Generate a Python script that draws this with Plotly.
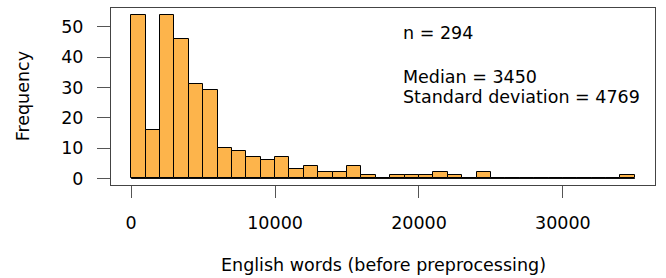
import plotly.graph_objects as go

# Histogram data: bins of width 1000 starting at 0
bin_starts = list(range(0, 35000, 1000))
counts = [54, 16, 54, 46, 31, 29, 10, 9, 7, 6, 7, 3, 4, 2, 2, 4, 1, 0, 1, 1, 1, 2, 1, 0, 2,
          0, 0, 0, 0, 0, 0, 0, 0, 0, 1]
bin_width = 1000
x_ticks = [0, 10000, 20000, 30000]
y_ticks = [0, 10, 20, 30, 40, 50]
stats_lines = ["n = 294", "Median = 3450", "Standard deviation = 4769"]
x_title = "English words (before preprocessing)"
y_title = "Frequency"

FONT = "DejaVu Sans"
FS = 17.5

centers = [s + bin_width / 2 for s in bin_starts]

fig = go.Figure()
fig.add_trace(go.Bar(
    x=centers, y=counts, width=bin_width,
    marker=dict(color="#FDB44B", line=dict(color="black", width=1)),
    showlegend=False, hoverinfo="skip",
))
# baseline for empty bins (R draws zero-height rectangles)
fig.add_trace(go.Scatter(
    x=[bin_starts[0], bin_starts[-1] + bin_width], y=[0, 0], mode="lines",
    line=dict(color="black", width=1), showlegend=False, hoverinfo="skip",
))

fig.update_layout(
    width=666, height=278,
    margin=dict(l=111, r=11, t=8, b=92.5),
    paper_bgcolor="white", plot_bgcolor="white",
    bargap=0,
    font=dict(family=FONT, size=FS, color="black"),
)
fig.update_xaxes(
    range=[-1400, 36400], tickvals=x_ticks, ticktext=[str(v) for v in x_ticks],
    ticks="outside", ticklen=12, tickcolor="#555", tickwidth=1,
    showline=True, linecolor="#444", linewidth=1, mirror=True,
    showgrid=False, zeroline=False, ticklabelstandoff=10,
)
fig.update_yaxes(
    range=[-2.16, 56.16], tickvals=y_ticks, ticktext=[str(v) for v in y_ticks],
    ticks="outside", ticklen=13, tickcolor="#555", tickwidth=1,
    showline=True, linecolor="#444", linewidth=1, mirror=True,
    showgrid=False, zeroline=False, ticklabelstandoff=10,
)

# axis titles
fig.add_annotation(text=x_title, xref="paper", yref="paper", x=0.5, y=-0.4535,
                   xanchor="center", yanchor="middle", showarrow=False,
                   font=dict(family=FONT, size=FS, color="black"))
fig.add_annotation(text=y_title, xref="paper", yref="paper", x=-0.162, y=0.5,
                   xanchor="center", yanchor="middle", showarrow=False, textangle=-90,
                   font=dict(family=FONT, size=FS, color="black"))

# statistics text
stat_y = [0.859, 0.611, 0.4986]
for txt, yy in zip(stats_lines, stat_y):
    fig.add_annotation(text=txt, xref="paper", yref="paper", x=0.534, y=yy,
                       xanchor="left", yanchor="middle", showarrow=False,
                       font=dict(family=FONT, size=FS, color="black"))

fig.write_html("out.html", config={"displayModeBar": False},
               post_script="document.body.style.margin='0';document.body.style.overflow='hidden';")
